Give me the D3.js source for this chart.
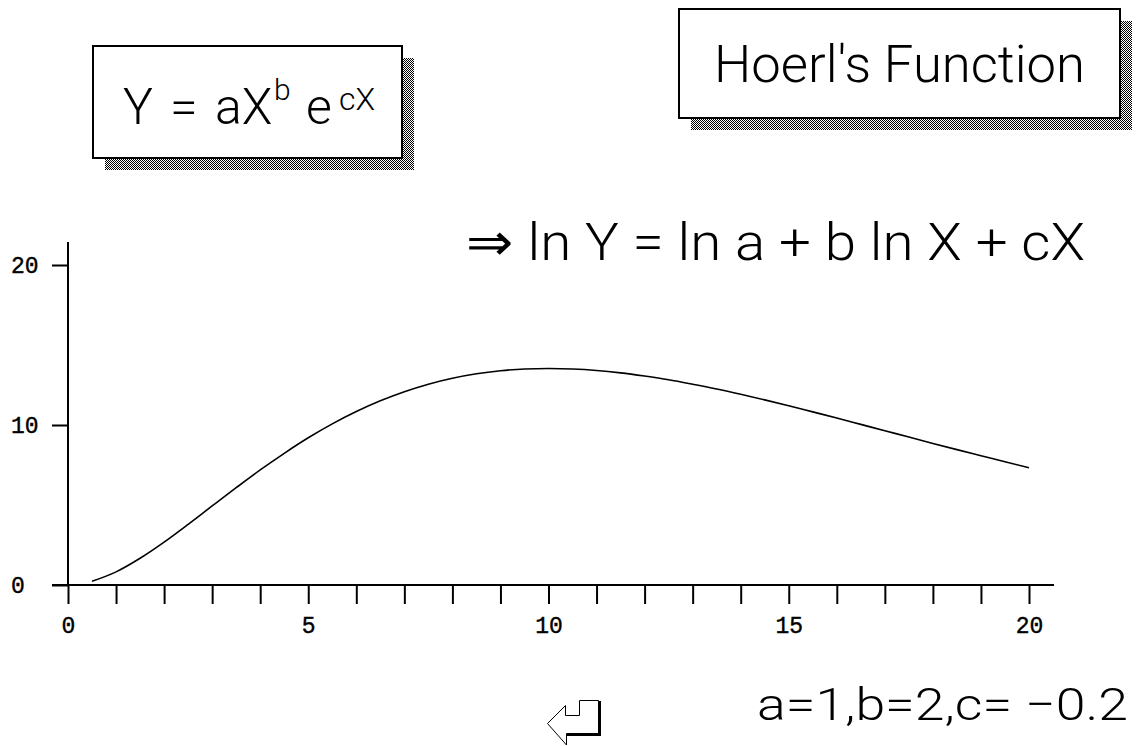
<!DOCTYPE html>
<html>
<head>
<meta charset="utf-8">
<script src="https://cdn.jsdelivr.net/npm/d3@7"></script>
<style>
  html, body { margin: 0; padding: 0; background: #fff; }
  svg { display: block; }
  .title { font-family: Roboto, "Liberation Sans", sans-serif; font-weight: 300; fill: #000; }
  .tick text, .ylab { font-family: "Liberation Mono", "DejaVu Sans Mono", monospace; font-size: 23px; fill: #000; stroke: #000; stroke-width: 0.4; }
</style>
</head>
<body>
<svg id="chart" width="1138" height="746"></svg>
<script>
// Hoerl's function with a = 1, b = 2, c = -0.2
const xValues = [0.5, 1, 1.5, 2, 2.5, 3, 3.5, 4, 4.5, 5, 5.5, 6, 6.5, 7, 7.5, 8, 8.5, 9, 9.5, 10,
                 10.5, 11, 11.5, 12, 12.5, 13, 13.5, 14, 14.5, 15, 15.5, 16, 16.5, 17, 17.5, 18, 18.5, 19, 19.5, 20];
const yValues = [0.23, 0.82, 1.67, 2.68, 3.79, 4.94, 6.08, 7.19, 8.23, 9.20, 10.07, 10.84, 11.51, 12.08, 12.55, 12.92, 13.20, 13.39, 13.50, 13.53,
                 13.50, 13.41, 13.26, 13.06, 12.83, 12.55, 12.25, 11.92, 11.57, 11.20, 10.82, 10.44, 10.04, 9.64, 9.25, 8.85, 8.46, 8.08, 7.70, 7.33];
const xTickValues = d3.range(0, 21);
const xTickLabels = [0, 5, 10, 15, 20];
const yTickValues = [0, 10, 20];

const svg = d3.select("#chart");

// checkerboard dither used for the drop shadows
const defs = svg.append("defs");
const pat = defs.append("pattern").attr("id", "dither")
  .attr("patternUnits", "userSpaceOnUse").attr("width", 2).attr("height", 2);
pat.append("rect").attr("width", 2).attr("height", 2).attr("fill", "#fff");
pat.append("rect").attr("x", 0).attr("y", 0).attr("width", 1).attr("height", 1).attr("fill", "#000");
pat.append("rect").attr("x", 1).attr("y", 1).attr("width", 1).attr("height", 1).attr("fill", "#000");

function shadowBox(x, y, w, h) {
  svg.append("rect").attr("x", x + 12).attr("y", y + 12).attr("width", w).attr("height", h)
    .attr("fill", "url(#dither)");
  svg.append("rect").attr("x", x).attr("y", y).attr("width", w).attr("height", h)
    .attr("fill", "#fff").attr("stroke", "#000").attr("stroke-width", 2);
}

// formula box
shadowBox(93, 46, 309, 112);
const f = svg.append("text").attr("class", "title").attr("y", 124).attr("font-size", 50);
f.append("tspan").attr("x", 123).text("Y");
f.append("tspan").attr("x", 170).text("=");
f.append("tspan").attr("x", 215).text("aX");
f.append("tspan").attr("x", 274).attr("y", 100).attr("font-size", 30).text("b");
f.append("tspan").attr("x", 306).attr("y", 124).text("e");
f.append("tspan").attr("x", 339).attr("y", 110).attr("font-size", 32).text("cX");

// title box
shadowBox(679, 9, 441, 109);
svg.append("text").attr("class", "title").attr("x", 714).attr("y", 82)
  .attr("font-size", 52).attr("textLength", 371).attr("lengthAdjust", "spacingAndGlyphs")
  .text("Hoerl's Function");

// log-linear form
svg.append("text").attr("class", "title").attr("x", 466).attr("y", 260)
  .attr("font-size", 52).attr("textLength", 619).attr("lengthAdjust", "spacingAndGlyphs")
  .text("\u21D2 ln Y = ln a + b ln X + cX");

// parameters
svg.append("text").attr("class", "title").attr("x", 757).attr("y", 720)
  .attr("font-size", 45).attr("textLength", 371).attr("lengthAdjust", "spacingAndGlyphs")
  .text("a=1,b=2,c= \u22120.2");

// scales
const x = d3.scaleLinear().domain([0, 20]).range([68, 1029]);
const y = d3.scaleLinear().domain([0, 20]).range([585, 265]);

// x axis
const gx = svg.append("g").attr("transform", `translate(0,${y(0)})`)
  .call(d3.axisBottom(x).tickValues(xTickValues).tickSize(19).tickPadding(13)
    .tickFormat(d => xTickLabels.includes(d) ? d : ""));
gx.select(".domain").remove();
gx.selectAll(".tick line").attr("stroke", "#000").attr("stroke-width", 2);
svg.append("line").attr("x1", 52).attr("x2", 1054).attr("y1", y(0)).attr("y2", y(0))
  .attr("stroke", "#000").attr("stroke-width", 2);

// y axis
const gy = svg.append("g").attr("transform", `translate(${x(0)},0)`)
  .call(d3.axisLeft(y).tickValues(yTickValues).tickSize(16).tickFormat(""));
gy.select(".domain").remove();
gy.selectAll(".tick line").attr("stroke", "#000").attr("stroke-width", 2);
svg.append("line").attr("x1", x(0)).attr("x2", x(0)).attr("y1", y(0)).attr("y2", 242)
  .attr("stroke", "#000").attr("stroke-width", 2);
svg.selectAll(".ylab").data(yTickValues).join("text").attr("class", "ylab")
  .attr("x", 11).attr("y", d => y(d)).attr("dy", "0.33em").text(d => d);

// curve
const line = d3.line().x((d, i) => x(xValues[i])).y(d => y(d)).curve(d3.curveMonotoneX);
svg.append("path").datum(yValues).attr("d", line)
  .attr("fill", "none").attr("stroke", "#000").attr("stroke-width", 1.6);

// return-key glyph
const icon = svg.append("g");
icon.append("path")
  .attr("d", "M547.5,723.5 L565.5,705.5 L565.5,715.5 L579.5,715.5 L579.5,700.5 L598.5,700.5 L598.5,733.5 L566.5,733.5 L566.5,745 Z")
  .attr("fill", "#fff").attr("stroke", "#000").attr("stroke-width", 1);
icon.append("path")
  .attr("d", "M599.5,701 L599.5,734.5 L567,734.5")
  .attr("fill", "none").attr("stroke", "#000").attr("stroke-width", 3);
</script>
</body>
</html>
